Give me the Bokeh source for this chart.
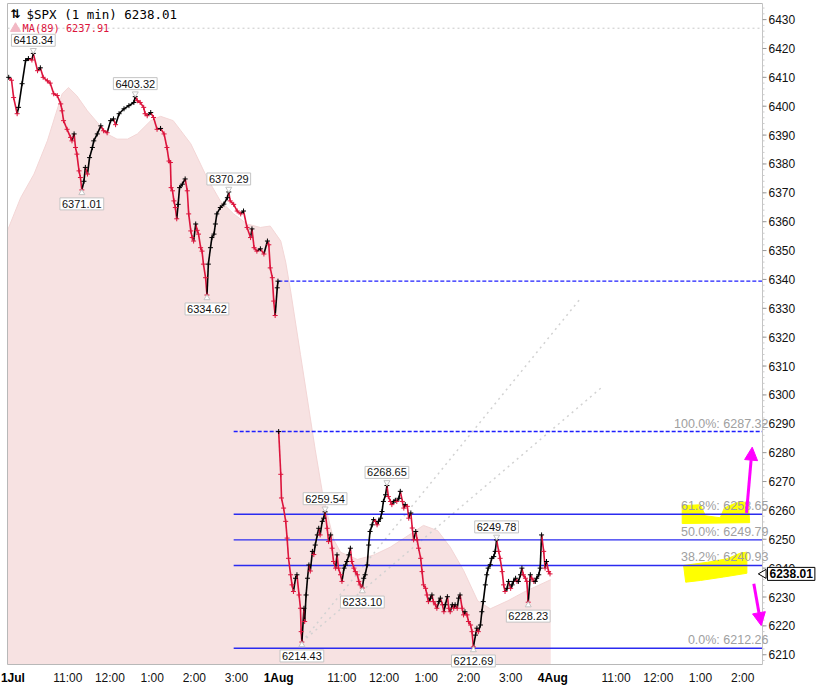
import numpy as np
from bokeh.plotting import figure
from bokeh.models import Range1d, Label, Arrow, NormalHead, ColumnDataSource
from bokeh.embed import file_html
from bokeh.resources import INLINE
from bokeh.core.properties import value

# ---------------- data ----------------
symbol_title = "$SPX (1 min) 6238.01"
ma_title = "MA(89) 6237.91"
last_price = 6238.01
prev_close = 6339.39
prior_high = 6427.02
session_len = 390

# session 1 (minutes after 9:30, price)
s1_min = [6, 10, 13, 18, 20, 25, 30, 34, 39, 41, 47, 51, 55, 61, 65, 70, 75, 80, 82, 84,
          89, 94, 96, 99, 101, 103, 106, 108, 110, 113, 115, 118, 121, 125, 127, 132, 137, 141, 146, 151,
          155, 158, 163, 170, 177, 184, 186, 189, 193, 198, 200, 203, 208, 212, 217, 222, 227, 231, 234, 236,
          237, 239, 241, 243, 245, 247, 249, 253, 257, 260, 262, 265, 267, 269, 272, 274, 276, 279, 281, 283,
          286, 288, 290, 293, 295, 298, 300, 302, 307, 312, 317, 319, 321, 326, 331, 336, 340, 345, 350, 352,
          355, 359, 364, 369, 374, 376, 378, 381, 383, 385, 388, 389]
s1_close = [6410.0, 6409.0, 6403.0, 6397.4, 6399.6, 6407.8, 6415.8, 6416.5, 6416.0, 6418.3, 6412.3, 6413.3, 6410.0, 6408.8, 6408.0, 6404.3, 6403.7, 6400.8, 6398.4, 6395.0,
            6392.0, 6389.2, 6388.0, 6390.4, 6385.7, 6383.4, 6377.6, 6375.3, 6371.0, 6374.0, 6378.8, 6376.5, 6382.2, 6385.7, 6388.0, 6390.4, 6393.2, 6391.5, 6390.8, 6395.0,
            6395.6, 6393.6, 6397.4, 6399.1, 6400.2, 6401.3, 6403.3, 6401.9, 6401.3, 6399.6, 6397.4, 6396.7, 6397.8, 6396.1, 6392.0, 6392.3, 6390.4, 6385.7, 6381.0, 6380.5,
            6371.8, 6370.7, 6367.2, 6364.9, 6361.0, 6366.0, 6371.8, 6373.0, 6374.8, 6370.7, 6362.7, 6356.8, 6354.5, 6353.3, 6359.2, 6357.0, 6355.7, 6351.0, 6349.8, 6345.3,
            6340.6, 6334.6, 6345.3, 6351.0, 6354.5, 6355.7, 6359.2, 6362.7, 6364.9, 6366.1, 6368.3, 6370.3, 6367.2, 6366.0, 6363.7, 6362.7, 6363.7, 6358.0, 6354.5, 6357.5,
            6351.0, 6349.8, 6350.6, 6348.8, 6353.3, 6352.0, 6344.0, 6340.6, 6332.5, 6327.5, 6337.1, 6339.4]

# session 2 (minutes after 9:30, price)
s2_min = [0, 3, 4, 7, 10, 12, 14, 17, 19, 21, 24, 26, 29, 31, 32, 33, 36, 37, 39, 41,
          43, 45, 48, 50, 52, 55, 57, 59, 62, 64, 66, 69, 71, 74, 76, 78, 81, 83, 85, 88,
          90, 93, 95, 97, 100, 102, 104, 107, 109, 112, 114, 116, 119, 121, 123, 126, 128, 130, 133, 135,
          138, 140, 142, 145, 147, 149, 152, 154, 156, 159, 161, 164, 166, 168, 171, 173, 176, 178, 180, 183,
          185, 188, 190, 192, 195, 197, 199, 202, 204, 206, 209, 211, 213, 216, 218, 220, 223, 225, 228, 230,
          233, 235, 237, 240, 242, 244, 247, 249, 251, 254, 256, 258, 261, 263, 265, 268, 270, 273, 275, 277,
          280, 282, 284, 287, 289, 291, 294, 296, 298, 301, 303, 306, 308, 310, 313, 315, 318, 320, 322, 325,
          327, 330, 332, 334, 337, 339, 341, 344, 346, 348, 351, 353, 355, 358, 360, 363, 365, 367, 370, 372,
          374, 377, 379, 381, 384, 386]
s2_close = [6287.3, 6272.5, 6264.3, 6260.8, 6256.2, 6250.4, 6243.4, 6237.7, 6234.2, 6231.9, 6236.5, 6237.7, 6230.7, 6226.1, 6218.0, 6214.4, 6226.1, 6221.5, 6230.7, 6236.5,
            6241.1, 6239.0, 6245.8, 6244.7, 6248.0, 6251.5, 6253.8, 6251.5, 6256.2, 6257.3, 6259.5, 6253.8, 6249.2, 6251.5, 6246.9, 6242.3, 6240.0, 6244.6, 6240.0, 6237.7,
            6235.4, 6240.0, 6241.1, 6242.3, 6244.6, 6246.9, 6242.3, 6240.0, 6238.8, 6237.7, 6235.4, 6234.2, 6233.1, 6236.5, 6237.7, 6241.1, 6248.0, 6252.7, 6255.0, 6256.8,
            6256.2, 6255.0, 6256.2, 6257.3, 6259.6, 6263.1, 6265.4, 6268.6, 6264.8, 6263.1, 6262.0, 6263.1, 6263.5, 6263.1, 6264.2, 6266.6, 6263.1, 6260.8, 6262.0, 6261.4,
            6257.3, 6259.1, 6253.9, 6249.8, 6252.7, 6249.8, 6246.9, 6243.4, 6238.8, 6234.2, 6233.0, 6230.7, 6228.4, 6229.6, 6230.7, 6228.4, 6227.3, 6226.1, 6228.4, 6229.6,
            6227.3, 6224.9, 6227.3, 6230.1, 6226.1, 6224.9, 6227.3, 6226.1, 6227.3, 6226.1, 6229.6, 6230.7, 6226.1, 6223.8, 6224.9, 6223.8, 6221.5, 6220.3, 6218.0, 6212.7,
            6216.8, 6219.2, 6218.0, 6220.3, 6224.9, 6228.4, 6234.2, 6237.7, 6240.0, 6241.2, 6243.4, 6244.0, 6245.8, 6249.8, 6245.8, 6243.4, 6238.8, 6234.2, 6231.9, 6233.0,
            6235.4, 6233.0, 6234.2, 6235.4, 6236.5, 6235.4, 6235.4, 6237.7, 6240.0, 6237.7, 6236.5, 6235.4, 6228.2, 6237.7, 6236.5, 6235.4, 6235.4, 6236.5, 6237.7, 6240.0,
            6251.5, 6245.8, 6240.0, 6242.3, 6238.8, 6238.0]

# MA(89) (minutes from first session open, value)
ma_min = [4, 23, 42, 61, 73, 82, 91, 103, 118, 132, 146, 160, 175, 189, 208, 222, 240, 265, 288, 307,
          326, 345, 364, 378, 393, 400, 407, 421, 435, 442, 452, 459, 468, 478, 502, 525, 549, 578, 596, 616,
          634, 653, 673, 691, 716, 738, 777]
ma_val = [6356.8, 6368.3, 6376.5, 6388.0, 6397.4, 6404.3, 6406.5, 6403.6, 6398.4, 6394.4, 6390.4, 6388.6, 6388.6, 6390.4, 6395.0, 6396.5, 6395.0, 6387.0, 6375.3, 6367.2,
          6362.7, 6359.2, 6358.0, 6358.5, 6353.3, 6346.0, 6336.0, 6314.0, 6292.0, 6281.0, 6266.5, 6259.0, 6250.0, 6245.5, 6243.0, 6244.5, 6247.3, 6251.9, 6254.8, 6253.0,
          6247.3, 6239.2, 6228.7, 6225.9, 6228.7, 6231.6, 6236.0]

fib_pct = ["100.0%", "61.8%", "50.0%", "38.2%", "0.0%"]
fib_val = [6287.32, 6258.65, 6249.79, 6240.93, 6212.26]
fib_start = 326

ann_min = [41, 186, 110, 319, 288, 456, 544, 509, 423, 667, 700, 745]
ann_val = [6418.34, 6403.32, 6371.01, 6370.29, 6334.62, 6259.54, 6268.65, 6233.10, 6214.43, 6212.69, 6249.78, 6228.23]
ann_above = [True, True, False, True, False, True, True, False, False, False, True, False]

tick_min = [12, 90, 150, 210, 270, 330, 390, 480, 540, 600, 660, 720, 780, 870, 930, 990, 1050]
tick_lbl = ["1Jul", "11:00", "12:00", "1:00", "2:00", "3:00", "1Aug", "11:00", "12:00", "1:00", "2:00", "3:00",
            "4Aug", "11:00", "12:00", "1:00", "2:00"]
price_ticks = list(range(6210, 6431, 10))

# trend lines from the low (start minute, start price) -> (end minute, end price)
trend_start = (423, 6214.43)
trend_ends = [(819, 6333.3), (850, 6302.7)]

# ---------------- geometry ----------------
W, H = 834, 685
PXM = 0.703          # pixels per minute
PXU = 2.887          # pixels per price unit
def mx(px):
    return (px - 4.0) / PXM
def py(px):
    return 6430.0 - (px - 19.1) / PXU

X0, X1 = mx(0), mx(W)
Y0, Y1 = py(H), py(0)
PL, PR, PT, PB = mx(7), mx(762), py(3), py(664)   # the chart pane

p = figure(width=W, height=H, x_range=Range1d(X0, X1), y_range=Range1d(Y0, Y1),
           output_backend="svg", toolbar_location=None, x_axis_location=None, y_axis_location=None,
           min_border=0, min_border_left=0, min_border_right=0, min_border_top=0, min_border_bottom=0)
p.background_fill_color = "white"
p.border_fill_color = "white"
p.outline_line_color = None
p.grid.visible = False

RED = "#dc143c"
BLUE = "#2b2bf0"
DASHBLUE = "#1f1fff"
FONT = "Liberation Sans"

# MA(89) shaded area
ma_src = ColumnDataSource(dict(x=ma_min, y=ma_val, b=[PB] * len(ma_min)))
p.varea(x="x", y1="b", y2="y", source=ma_src, fill_color="#f7e2e2")
p.line(x="x", y="y", source=ma_src, line_color="#f3d6d6", line_width=1)

# pane border
p.segment(x0=[PL, PL, PL], y0=[PB, PT, PB], x1=[PL, PR, PR], y1=[PT, PT, PB], line_color="#b8b8b8", line_width=1)

# prior-high dotted line
p.segment(x0=[PL], y0=[prior_high], x1=[PR], y1=[prior_high], line_color="#c8c8c8",
          line_width=1, line_dash="2 3")

# trend lines
for (ex, ey) in trend_ends:
    p.segment(x0=[trend_start[0]], y0=[trend_start[1]], x1=[ex], y1=[ey],
              line_color="#d2d2d2", line_width=1.5, line_dash="2 4")

# yellow highlighter marks (around the 61.8% and 38.2% labels)
lv618, lv382 = fib_val[1], fib_val[3]
p.patch([964, 990, 997, 1018, 1024, 1040, 1058, 1060, 964],
        [lv618 + 3.0, lv618 + 3.3, lv618 - 0.5, lv618 - 1.2, lv618 + 2.2, lv618 + 3.9, lv618 + 4.3, lv618 - 2.9, lv618 - 3.2],
        fill_color="#ffff00", line_color="#ffff00", line_width=1)
p.patch([966, 1000, 1028, 1047, 1056, 1056, 1023, 990, 969],
        [lv382 + 0.0, lv382 + 1.1, lv382 + 2.3, lv382 + 4.3, lv382 + 4.6, lv382 - 2.7, lv382 - 4.0, lv382 - 5.2, lv382 - 5.8],
        fill_color="#ffff00", line_color="#ffff00", line_width=1)

# previous close dashed line
p.segment(x0=[389.5], y0=[prev_close], x1=[PR], y1=[prev_close], line_color=DASHBLUE,
          line_width=1.3, line_dash="4 2")

# fibonacci lines
for lbl, v in zip(fib_pct, fib_val):
    is100 = lbl.startswith("100")
    p.segment(x0=[fib_start], y0=[v], x1=[PR], y1=[v], line_color=DASHBLUE if is100 else BLUE,
              line_width=1.4, line_dash="4 2" if is100 else "solid")
    p.add_layout(Label(x=mx(768), y=v, y_offset=8, text=f"{lbl}: {v:.2f}", text_align="right",
                       text_baseline="middle", text_font=FONT, text_font_size="12.5px",
                       text_color="#a0a0a0"))

# price path (black up, red down)
for offs, mins, cls in ((0, s1_min, s1_close), (session_len, s2_min, s2_close)):
    x = [offs + m for m in mins]
    x0s, y0s, x1s, y1s, cols = [], [], [], [], []
    for i in range(1, len(x)):
        x0s.append(x[i - 1]); y0s.append(cls[i - 1]); x1s.append(x[i]); y1s.append(cls[i])
        cols.append("#000000" if cls[i] >= cls[i - 1] else RED)
    p.segment(x0=x0s, y0=y0s, x1=x1s, y1=y1s, line_color=cols, line_width=1.6)
    pc = ["#000000"] + cols
    p.scatter(x=x, y=cls, marker="cross", size=5, line_color=pc, line_width=1)

# extreme-value annotations
for m, v, up in zip(ann_min, ann_val, ann_above):
    off = 13 if up else -14
    p.add_layout(Label(x=m, y=v, y_offset=off, text=f"{v:.2f}", text_align="center", text_baseline="middle",
                       text_font=FONT, text_font_size="11px", text_color="#111111",
                       background_fill_color="white", border_line_color="#c4c4c4", padding=2))
    d = 3.0 / PXU
    p.scatter(x=[m], y=[v + d if up else v - d], marker="inverted_triangle" if up else "triangle",
              size=6, fill_color="white", line_color="#c4c4c4")

# magenta arrows
for (xa, ya, xb, yb) in ((1055.5, lv618 + 0.5, 1063.6, 6281.9), (1065.9, 6234.6, 1076.4, 6220.1)):
    p.add_layout(Arrow(end=NormalHead(size=13, fill_color="#ff00ff", line_color="#ff00ff"),
                       x_start=xa, y_start=ya, x_end=xb, y_end=yb, line_color="#ff00ff", line_width=3))

# legend texts
p.add_layout(Label(x=mx(10), y=py(13.5), text="\u21c5", text_align="left", text_baseline="middle",
                   text_font="DejaVu Sans", text_font_size="12px", text_font_style="bold", text_color="#000000"))
p.add_layout(Label(x=mx(26), y=py(13.5), text=symbol_title, text_align="left", text_baseline="middle",
                   text_font="DejaVu Sans Mono", text_font_size="12.5px", text_color="#000000"))
p.scatter(x=[mx(15)], y=[py(28)], marker="triangle", size=10, fill_color="#f2b8c4", line_color="#f2b8c4")
p.add_layout(Label(x=mx(22), y=py(27.5), text=ma_title, text_align="left", text_baseline="middle",
                   text_font="DejaVu Sans Mono", text_font_size="10.3px", text_color=RED))

# right price axis
p.segment(x0=[PR], y0=[PB], x1=[PR], y1=[PT], line_color="#c4c4c4", line_width=1)
minor = [float(v) for v in np.arange(6208, 6436, 2)]
p.segment(x0=[PR] * len(minor), y0=minor, x1=[PR + 2 / PXM] * len(minor), y1=minor, line_color="#cccccc", line_width=1)
p.segment(x0=[PR] * len(price_ticks), y0=price_ticks, x1=[PR + 4 / PXM] * len(price_ticks), y1=price_ticks,
          line_color="#999999", line_width=1)
for v in price_ticks:
    p.add_layout(Label(x=mx(768), y=v, text=str(v), text_align="left", text_baseline="middle",
                       text_font=FONT, text_font_size="12px", text_color="#111111"))

# current price tag
p.scatter(x=[mx(763)], y=[last_price], marker="triangle", angle=np.pi / 2, size=9,
          fill_color="white", line_color="#000000")
p.add_layout(Label(x=mx(767), y=last_price, text=f"{last_price:.2f}", text_align="left",
                   text_baseline="middle", text_font=FONT, text_font_size="12px",
                   text_font_style="bold", text_color="#000000", background_fill_color="white",
                   border_line_color="#000000", padding=2))

# time axis
for m, l in zip(tick_min, tick_lbl):
    day = ":" not in l
    p.add_layout(Label(x=m, y=py(677), text=l, text_align="center", text_baseline="middle",
                       text_font=FONT, text_font_size="12px", text_font_style="bold" if day else "normal",
                       text_color="#000000" if day else "#111111"))

open("out.html", "w").write(file_html(p, INLINE))
